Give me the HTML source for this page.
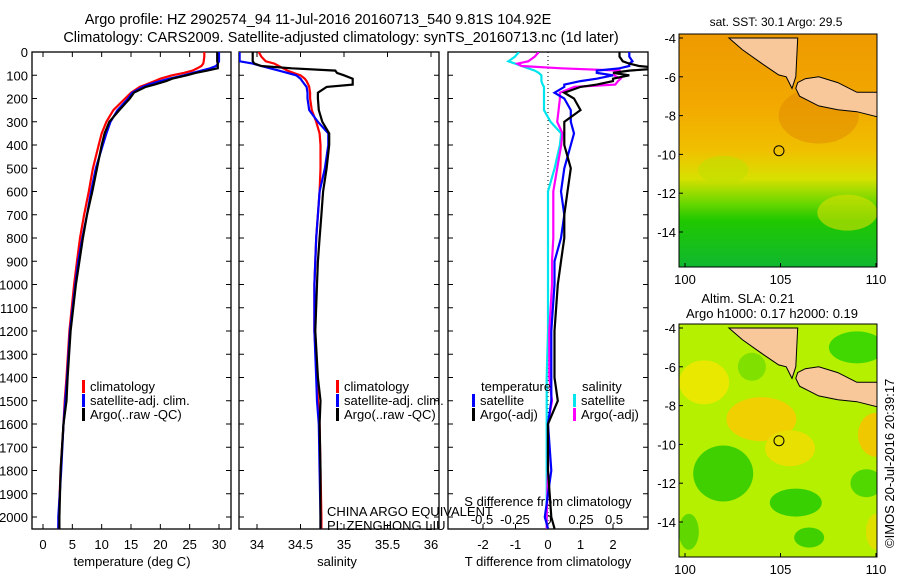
<!DOCTYPE html>
<html><head><meta charset="utf-8">
<style>
html,body{margin:0;padding:0;background:#fff;}
svg{display:block;font-family:"Liberation Sans",sans-serif;}
</style></head>
<body>
<svg id="fig" width="900" height="580" viewBox="0 0 900 580">
<text x="318" y="24" font-size="14.5" text-anchor="middle">Argo profile: HZ 2902574_94 11-Jul-2016 20160713_540 9.81S 104.92E</text>
<text x="341" y="42" font-size="14.5" text-anchor="middle">Climatology: CARS2009. Satellite-adjusted climatology: synTS_20160713.nc (1d later)</text>
<g id="plots"></g>
<g id="maps"></g>
<text transform="translate(894,548) rotate(-90)" font-size="13">©IMOS 20-Jul-2016 20:39:17</text>
</svg>
<script>
const depths = [0,20,40,50,60,70,80,90,100,115,125,140,150,175,200,250,300,350,400,500,600,700,800,900,1000,1200,1400,1500,1600,1800,2000,2050];
const tempClim = [27.5,27.5,27.4,27.3,27,26.3,25.5,24,22,20,19,17.5,16.5,15,14,12,10.8,10,9.5,8.5,7.8,7,6.3,5.8,5.3,4.5,4,3.7,3.5,3,2.7,2.6];
const tempSat = [30,30,30,29.8,29.5,28.5,27,25.5,24,21.5,20,18,17,15.2,14.5,12.7,11.5,10.8,10.2,9,8.2,7.5,6.7,6,5.5,4.6,4.1,3.8,3.5,3.1,2.6,2.6];
const tempArgo = [29.7,29.7,29.7,29.8,29.8,29.8,28,26,24.5,22,21,19,17.5,15.5,14.8,13,11.3,10.5,10,9.2,8.4,7.5,6.8,6.2,5.6,4.7,4.2,4,3.5,3.0,2.8,2.8];
const salClim = [34.02,34.05,34.1,34.2,34.25,34.3,34.35,34.42,34.5,34.55,34.57,34.59,34.6,34.61,34.61,34.63,34.68,34.72,34.73,34.73,34.72,34.7,34.68,34.67,34.66,34.66,34.69,34.7,34.72,34.73,34.74,34.74];
const salSat = [33.8,33.8,33.8,33.95,34.05,34.15,34.25,34.35,34.45,34.5,34.52,34.55,34.57,34.58,34.58,34.6,34.7,34.82,34.82,34.78,34.72,34.7,34.68,34.67,34.66,34.66,34.68,34.69,34.71,34.72,34.73,34.73];
const salArgo = [33.95,33.95,33.95,33.97,34.05,34.4,34.9,34.92,35.0,35.1,35.1,35.1,34.8,34.7,34.7,34.71,34.75,34.83,34.83,34.8,34.76,34.74,34.72,34.7,34.69,34.67,34.7,34.73,34.72,34.73,34.73,34.73];
const depthTicks = [0,100,200,300,400,500,600,700,800,900,1000,1100,1200,1300,1400,1500,1600,1700,1800,1900,2000];
const tempTicks = [0,5,10,15,20,25,30];
const salTicks = [34,34.5,35,35.5,36];
const tdTicks = [-2,-1,0,1,2];
const sdTicks = [-0.5,-0.25,0,0.25,0.5];
const latTicks = [-4,-6,-8,-10,-12,-14];
const lonTicks = [100,105,110];
const argoPos = [104.92,-9.81];

const NS='http://www.w3.org/2000/svg';
const plots=document.getElementById('plots');
const maps=document.getElementById('maps');
function mk(tag,attrs,parent){const e=document.createElementNS(NS,tag);for(const k in attrs)e.setAttribute(k,attrs[k]);(parent||plots).appendChild(e);return e;}
function txt(x,y,s,size,anchor,parent){const t=mk('text',{x:x,y:y,'font-size':size,'text-anchor':anchor||'middle'},parent);t.textContent=s;return t;}

const TOP=52,BOT=529;
const yD=d=>52+d*0.2325;
const xT=v=>43+v*5.8667;
const xS=v=>257+(v-34)*87;
const xTD=v=>548+v*32.5;
const xSD=v=>548+v*132;

function frame(x0,x1,name){const r=mk('rect',{x:x0,y:TOP,width:x1-x0,height:BOT-TOP,fill:'none',stroke:'#000','stroke-width':1.3});
 depthTicks.forEach(d=>{mk('line',{x1:x0,x2:x0+5,y1:yD(d),y2:yD(d),stroke:'#000'});mk('line',{x1:x1-5,x2:x1,y1:yD(d),y2:yD(d),stroke:'#000'});});}
function line(xs,fx,color,name,clip){const pts=depths.map((d,i)=>fx(xs[i]).toFixed(1)+','+yD(d).toFixed(1)).join(' ');
 const p=mk('polyline',{points:pts,fill:'none',stroke:color,'stroke-width':2.2,'clip-path':'url(#'+clip+')'});
 }

const defs=mk('defs',{});
[['clipT',32,231],['clipS',239,439],['clipD',448,648]].forEach(c=>{const cp=mk('clipPath',{id:c[0]},defs);mk('rect',{x:c[1],y:TOP,width:c[2]-c[1],height:BOT-TOP},cp);});

frame(32,231,'temperature-panel');
depthTicks.forEach(d=>{const t=txt(28,yD(d)+5,String(d),13,'end');});
tempTicks.forEach(v=>{mk('line',{x1:xT(v),x2:xT(v),y1:TOP,y2:TOP+5,stroke:'#000'});mk('line',{x1:xT(v),x2:xT(v),y1:BOT-5,y2:BOT,stroke:'#000'});const t=txt(xT(v),549,String(v),13);});
let at=txt(132,566,'temperature (deg C)',13);
line(tempClim,xT,'#ff0000','temp-climatology-line','clipT');
line(tempSat,xT,'#0000ff','temp-satellite-line','clipT');
line(tempArgo,xT,'#000000','temp-argo-line','clipT');

frame(239,439,'salinity-panel');
salTicks.forEach(v=>{mk('line',{x1:xS(v),x2:xS(v),y1:TOP,y2:TOP+5,stroke:'#000'});mk('line',{x1:xS(v),x2:xS(v),y1:BOT-5,y2:BOT,stroke:'#000'});const t=txt(xS(v),549,String(v),13);});
at=txt(337,566,'salinity',13);
line(salClim,xS,'#ff0000','sal-climatology-line','clipS');
line(salSat,xS,'#0000ff','sal-satellite-line','clipS');
line(salArgo,xS,'#000000','sal-argo-line','clipS');

frame(448,648,'difference-panel');
mk('line',{x1:xTD(0),x2:xTD(0),y1:TOP,y2:BOT,stroke:'#000','stroke-dasharray':'1,3'});
tdTicks.forEach(v=>{mk('line',{x1:xTD(v),x2:xTD(v),y1:BOT-5,y2:BOT,stroke:'#000'});const t=txt(xTD(v),549,String(v),13);});
sdTicks.forEach(v=>{const t=txt(xSD(v),524,String(v),13);});
at=txt(548,506,'S difference from climatology',13);
at=txt(548,566,'T difference from climatology',13);
const dTS=tempSat.map((v,i)=>v-tempClim[i]);
const dTA=tempArgo.map((v,i)=>v-tempClim[i]);
const dSS=salSat.map((v,i)=>v-salClim[i]);
const dSA=salArgo.map((v,i)=>v-salClim[i]);
line(dSS,xSD,'#00e5ee','sdiff-satellite-line','clipD');
line(dSA,xSD,'#ff00ff','sdiff-argo-line','clipD');
line(dTS,xTD,'#0000ff','tdiff-satellite-line','clipD');
line(dTA,xTD,'#000000','tdiff-argo-line','clipD');

function leg(x,y,color,label,name){mk('rect',{x:x,y:y-11,width:3,height:13,fill:color});const t=txt(x+8,y,label,13,'start');}
leg(82,391,'#ff0000','climatology','legend-climatology');
leg(82,405,'#0000ff','satellite-adj. clim.','legend-satellite');
leg(82,419,'#000000','Argo(..raw -QC)','legend-argo');
leg(336,391,'#ff0000','climatology','legend-sal-climatology');
leg(336,405,'#0000ff','satellite-adj. clim.','legend-sal-satellite');
leg(336,419,'#000000','Argo(..raw -QC)','legend-sal-argo');
let lt=txt(481,391,'temperature',13,'start');
lt=txt(582,391,'salinity',13,'start');
leg(472,405,'#0000ff','satellite','legend-t-satellite');
leg(472,419,'#000000','Argo(-adj)','legend-t-argo');
leg(573,405,'#00e5ee','satellite','legend-s-satellite');
leg(573,419,'#ff00ff','Argo(-adj)','legend-s-argo');
let pi=txt(327,516,'CHINA ARGO EQUIVALENT',13,'start');
pi=txt(327,530,'PI: ZENGHONG LIU',13,'start');

function drawMap(y0,kind,name){
 const X0=679,X1=877,Y0=y0-4,Y1=y0+229;
 const lx=l=>685+(l-100)*19.1, ly=l=>y0+(-4-l)*19.4;
 const g=mk('g',{},maps);
 const id='mc'+kind;const cp=mk('clipPath',{id:id},defs);mk('rect',{x:X0,y:Y0,width:X1-X0,height:Y1-Y0},cp);
 const inner=mk('g',{'clip-path':'url(#'+id+')'},g);
 if(kind==='sst'){
  const gr=mk('linearGradient',{id:'gsst',x1:0,y1:0,x2:0,y2:1},defs);
  [[0,'#ee9a00'],[0.3,'#f2a800'],[0.5,'#f0c000'],[0.62,'#d8e000'],[0.72,'#70d800'],[0.8,'#20c800'],[1,'#10b830']].forEach(s=>mk('stop',{offset:s[0],'stop-color':s[1]},gr));
  mk('rect',{x:X0,y:Y0,width:X1-X0,height:Y1-Y0,fill:'url(#gsst)'},inner);
  mk('ellipse',{cx:lx(107),cy:ly(-8),rx:40,ry:28,fill:'#e08800',opacity:0.5},inner);
  mk('ellipse',{cx:lx(108.5),cy:ly(-13),rx:30,ry:18,fill:'#d8e000',opacity:0.6},inner);
  mk('ellipse',{cx:lx(102),cy:ly(-10.8),rx:25,ry:14,fill:'#c0e000',opacity:0.6},inner);
 } else {
  mk('rect',{x:X0,y:Y0,width:X1-X0,height:Y1-Y0,fill:'#b4f000'},inner);
  [[101,-6.8,25,22,'#e8e800'],[104,-8.7,35,22,'#f0d000'],[110,-9.5,18,22,'#f0c800'],[105.5,-10.2,25,18,'#e8e000'],[102,-11.5,30,28,'#40d000'],[105.8,-13,26,14,'#38d000'],[106.5,-14.8,15,10,'#40d000'],[109.5,-12,16,14,'#50d800'],[103.5,-6,14,14,'#80e000'],[109,-5,28,16,'#40d800'],[100.2,-14.5,10,18,'#60d800'],[110,-14.5,10,18,'#e0e000']].forEach(b=>mk('ellipse',{cx:lx(b[0]),cy:ly(b[1]),rx:b[2],ry:b[3],fill:b[4]},inner));
 }
 const sum=[[102.3,-4],[103,-4.6],[104,-5.3],[104.9,-5.9],[105.3,-6],[105.6,-6.6],[105.8,-6],[105.9,-4]];
 const jav=[[105.9,-6.3],[106.3,-6.1],[107,-6.0],[108,-6.3],[109,-6.8],[110.2,-6.8],[110.2,-8.1],[109,-7.8],[108,-7.7],[107,-7.5],[106.4,-7.2],[106,-7],[105.8,-6.6]];
 [sum,jav].forEach(poly=>mk('polygon',{points:poly.map(p=>lx(p[0]).toFixed(1)+','+ly(p[1]).toFixed(1)).join(' '),fill:'#f9c89a',stroke:'#000','stroke-width':1},inner));
 mk('circle',{cx:lx(argoPos[0]),cy:ly(argoPos[1]),r:5,fill:'none',stroke:'#000','stroke-width':1},inner);
 mk('rect',{x:X0,y:Y0,width:X1-X0,height:Y1-Y0,fill:'none',stroke:'#000'},g);
 latTicks.forEach(l=>{mk('line',{x1:X0,x2:X0+4,y1:ly(l),y2:ly(l),stroke:'#000'},g);const t=txt(X0-3,ly(l)+5,String(l),13,'end',g);});
 lonTicks.forEach(l=>{mk('line',{x1:lx(l),x2:lx(l),y1:Y1-4,y2:Y1,stroke:'#000'},g);const t=txt(lx(l),Y1+17,String(l),13,'middle',g);});
}
drawMap(38,'sst','sst-map');
drawMap(328,'sla','sla-map');
let mt=txt(776,26,'sat. SST: 30.1  Argo: 29.5',12,'middle',maps);
mt=txt(748,303,'Altim. SLA: 0.21',13,'middle',maps);
mt=txt(772,318,'Argo h1000: 0.17 h2000: 0.19',13,'middle',maps);
</script>
</body></html>
